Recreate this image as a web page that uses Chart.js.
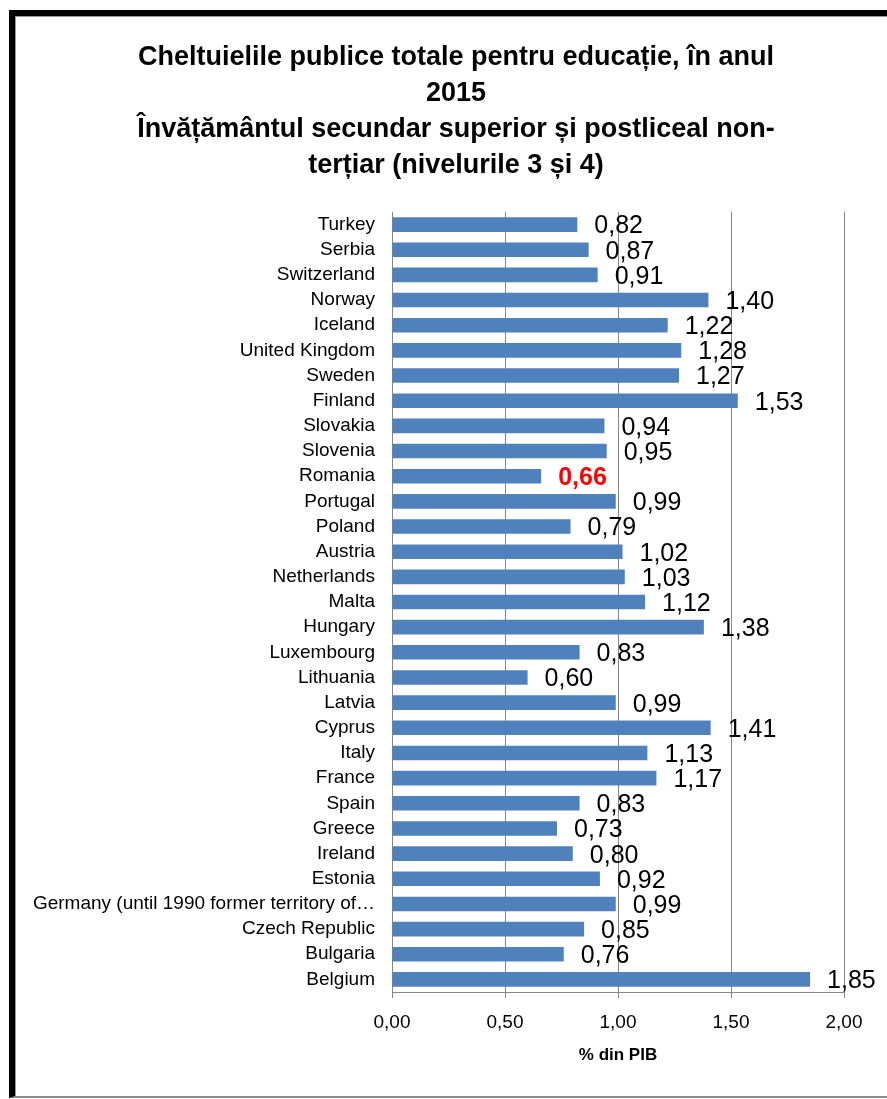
<!DOCTYPE html>
<html>
<head>
<meta charset="utf-8">
<title>Cheltuielile publice totale pentru educație 2015</title>
<script src="https://cdn.jsdelivr.net/npm/chart.js@4.4.0/dist/chart.umd.min.js"></script>
<style>
  html, body { margin: 0; padding: 0; background: #fff; }
  #wrap { position: relative; width: 887px; height: 1099px; overflow: hidden; }
  #myChart { position: absolute; left: 0; top: 0; }
  #frame {
    position: absolute; left: 9px; top: 10px; width: 900px; height: 1080px;
    border-left: 6px solid #000; border-top: 6px solid #000; border-bottom: 2px solid #8c8c8c;
    box-shadow: inset 1px 1px 0 #9a9a9a; pointer-events: none;
  }
</style>
</head>
<body>
<div id="wrap">
  <canvas id="myChart" width="887" height="1099"></canvas>
  <div id="frame"></div>
</div>
<script>
var countries = [
  'Turkey', 'Serbia', 'Switzerland', 'Norway', 'Iceland', 'United Kingdom', 'Sweden',
  'Finland', 'Slovakia', 'Slovenia', 'Romania', 'Portugal', 'Poland', 'Austria',
  'Netherlands', 'Malta', 'Hungary', 'Luxembourg', 'Lithuania', 'Latvia', 'Cyprus',
  'Italy', 'France', 'Spain', 'Greece', 'Ireland', 'Estonia',
  'Germany (until 1990 former territory of…', 'Czech Republic', 'Bulgaria', 'Belgium'
];
var values = [
  0.82, 0.87, 0.91, 1.40, 1.22, 1.28, 1.27,
  1.53, 0.94, 0.95, 0.66, 0.99, 0.79, 1.02,
  1.03, 1.12, 1.38, 0.83, 0.60, 0.99, 1.41,
  1.13, 1.17, 0.83, 0.73, 0.80, 0.92,
  0.99, 0.85, 0.76, 1.85
];
var xTickLabels = ['0,00', '0,50', '1,00', '1,50', '2,00'];
var highlight = 'Romania';

var titleLines = [
  'Cheltuielile publice totale pentru educație, în anul',
  '2015',
  'Învățământul secundar superior și postliceal non-',
  'terțiar (nivelurile 3 și 4)'
];

var FONT = '"Liberation Sans", Arial, sans-serif';
var GRID = '#868686';

// value labels next to each bar (Romania in bold red)
var valueLabels = {
  id: 'valueLabels',
  afterLayout: function (chart) {
    // title is centred on the framed area, not on the whole canvas
    if (chart.titleBlock) {
      chart.titleBlock.left = 25;
      chart.titleBlock.right = 887;
    }
  },
  afterDatasetsDraw: function (chart) {
    var ctx = chart.ctx;
    var meta = chart.getDatasetMeta(0);
    ctx.save();
    ctx.textBaseline = 'middle';
    ctx.textAlign = 'left';
    meta.data.forEach(function (bar, i) {
      var hi = countries[i] === highlight;
      ctx.font = (hi ? 'bold ' : '') + '25px ' + FONT;
      ctx.fillStyle = hi ? '#ff0000' : '#000000';
      ctx.fillText(values[i].toFixed(2).replace('.', ','), bar.x + 17, bar.y + 2);
    });
    ctx.restore();
  }
};

var ctx = document.getElementById('myChart').getContext('2d');
var myChart = new Chart(ctx, {
  type: 'bar',
  data: {
    labels: countries,
    datasets: [{
      data: values,
      backgroundColor: '#4F81BD',
      borderWidth: 0,
      categoryPercentage: 1,
      barPercentage: 0.58
    }]
  },
  plugins: [valueLabels],
  options: {
    indexAxis: 'y',
    responsive: false,
    animation: false,
    layout: { padding: { left: 0, right: 43, top: 20, bottom: 0 } },
    plugins: {
      legend: { display: false },
      tooltip: { enabled: false },
      title: {
        display: true,
        text: titleLines,
        color: '#000',
        font: { family: FONT, size: 27, weight: 'bold', lineHeight: '36px' },
        padding: { top: 20, bottom: 28 }
      }
    },
    scales: {
      x: {
        min: 0,
        max: 2,
        ticks: {
          stepSize: 0.5,
          color: '#000',
          font: { family: FONT, size: 19 },
          padding: 13,
          maxRotation: 0,
          callback: function (v, i) { return xTickLabels[i]; }
        },
        grid: { color: GRID, lineWidth: 1, drawTicks: true, tickLength: 6 },
        border: { color: GRID, width: 1 },
        title: {
          display: true,
          text: '% din PIB',
          color: '#000',
          font: { family: FONT, size: 17, weight: 'bold' },
          padding: { top: 0, bottom: 33 }
        },
        afterFit: function (scale) { scale.height = 107; }
      },
      y: {
        ticks: {
          autoSkip: false,
          color: '#000',
          font: { family: FONT, size: 19 },
          padding: 17
        },
        grid: { display: false, drawTicks: false },
        border: { display: true, color: GRID, width: 1 },
        afterFit: function (scale) { scale.width = 392; }
      }
    }
  }
});
</script>
</body>
</html>
